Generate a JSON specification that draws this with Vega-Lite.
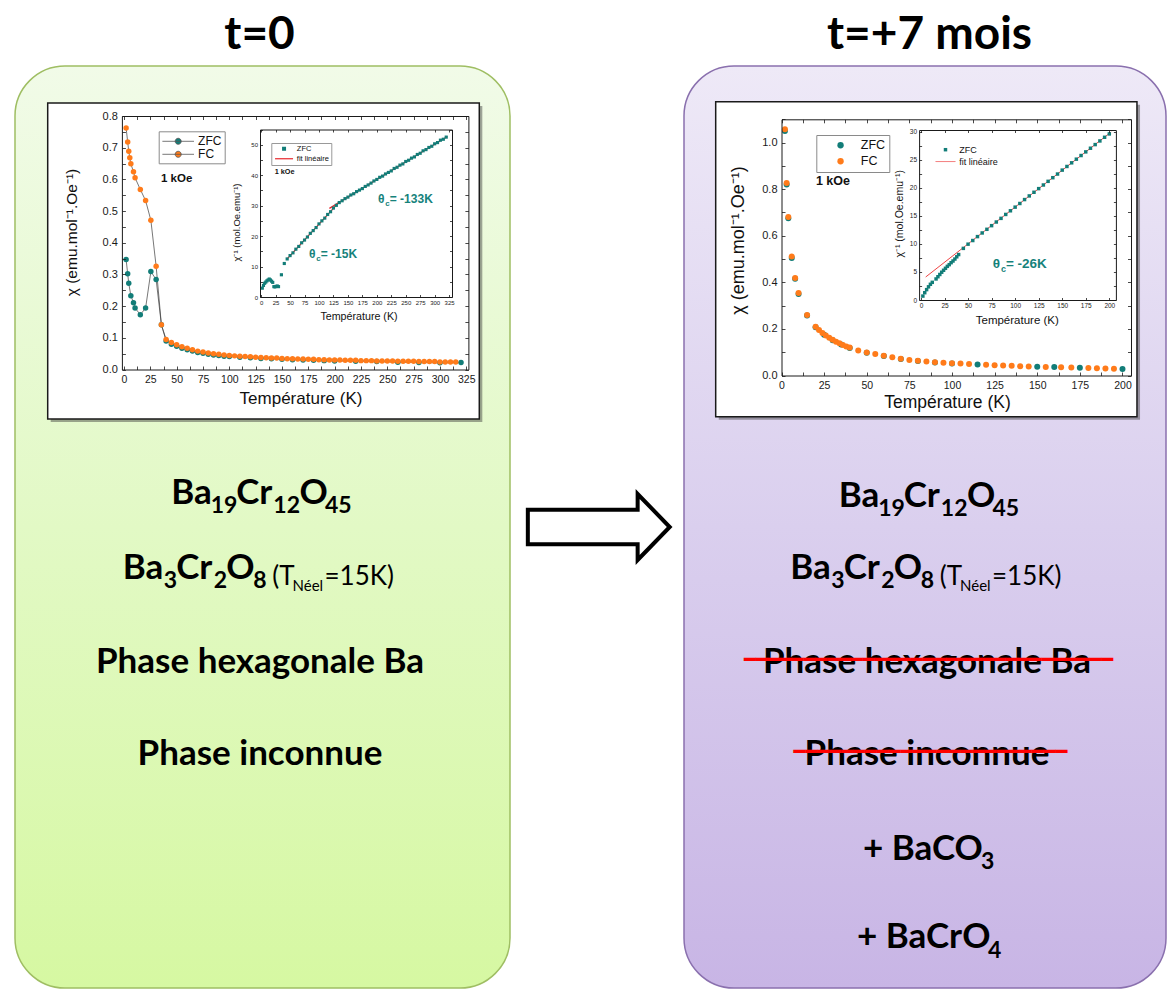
{
"$schema": "https://vega.github.io/schema/vega-lite/v6.json",
"padding": {"left": 14, "top": 11, "right": 0, "bottom": 0},
"background": "white",
"spacing": 0,
"bounds": "flush",
"config": {
  "view": {"stroke": null},
  "axis": {"grid": false, "labelFont": "Liberation Sans", "titleFont": "Liberation Sans", "titleFontWeight": "normal", "labelColor": "#1a1a1a", "titleColor": "#111", "domainColor": "#1a1a1a", "tickColor": "#1a1a1a", "domainWidth": 1, "tickWidth": 0.8, "labelFlush": false, "labelOverlap": false, "labelBound": false},
  "legend": {"labelFont": "Liberation Sans", "titleFont": "Liberation Sans"},
  "title": {"font": "Lato", "fontSize": 46, "fontWeight": "bold", "color": "#000", "anchor": "middle", "frame": "group"}
},
"datasets": {
  "left_main": [
    {"T":2,"chi":0.347,"mode":"ZFC"},{"T":3.5,"chi":0.302,"mode":"ZFC"},{"T":4.5,"chi":0.272,"mode":"ZFC"},{"T":6.5,"chi":0.233,"mode":"ZFC"},{"T":9,"chi":0.211,"mode":"ZFC"},{"T":10.5,"chi":0.194,"mode":"ZFC"},{"T":15.5,"chi":0.173,"mode":"ZFC"},{"T":20.5,"chi":0.194,"mode":"ZFC"},{"T":25.5,"chi":0.309,"mode":"ZFC"},{"T":30.5,"chi":0.284,"mode":"ZFC"},{"T":35.5,"chi":0.141,"mode":"ZFC"},{"T":40,"chi":0.090,"mode":"ZFC"},{"T":45,"chi":0.080,"mode":"ZFC"},{"T":50,"chi":0.073,"mode":"ZFC"},{"T":55,"chi":0.067,"mode":"ZFC"},{"T":60,"chi":0.062,"mode":"ZFC"},{"T":65,"chi":0.058,"mode":"ZFC"},{"T":70,"chi":0.054,"mode":"ZFC"},{"T":75,"chi":0.051,"mode":"ZFC"},{"T":80,"chi":0.048,"mode":"ZFC"},{"T":85,"chi":0.046,"mode":"ZFC"},{"T":90,"chi":0.044,"mode":"ZFC"},{"T":95,"chi":0.042,"mode":"ZFC"},{"T":100,"chi":0.041,"mode":"ZFC"},{"T":110,"chi":0.039,"mode":"ZFC"},{"T":120,"chi":0.037,"mode":"ZFC"},{"T":130,"chi":0.035,"mode":"ZFC"},{"T":140,"chi":0.034,"mode":"ZFC"},{"T":150,"chi":0.032,"mode":"ZFC"},{"T":160,"chi":0.031,"mode":"ZFC"},{"T":170,"chi":0.030,"mode":"ZFC"},{"T":180,"chi":0.029,"mode":"ZFC"},{"T":190,"chi":0.028,"mode":"ZFC"},{"T":200,"chi":0.027,"mode":"ZFC"},{"T":220,"chi":0.026,"mode":"ZFC"},{"T":240,"chi":0.025,"mode":"ZFC"},{"T":260,"chi":0.023,"mode":"ZFC"},{"T":280,"chi":0.022,"mode":"ZFC"},{"T":300,"chi":0.021,"mode":"ZFC"},{"T":320,"chi":0.022,"mode":"ZFC"},
    {"T":2,"chi":0.762,"mode":"FC"},{"T":3.5,"chi":0.718,"mode":"FC"},{"T":4.5,"chi":0.689,"mode":"FC"},{"T":5.5,"chi":0.668,"mode":"FC"},{"T":6.5,"chi":0.649,"mode":"FC"},{"T":9,"chi":0.624,"mode":"FC"},{"T":10.5,"chi":0.605,"mode":"FC"},{"T":15.5,"chi":0.568,"mode":"FC"},{"T":20.5,"chi":0.533,"mode":"FC"},{"T":25.5,"chi":0.471,"mode":"FC"},{"T":30.5,"chi":0.326,"mode":"FC"},{"T":35.5,"chi":0.141,"mode":"FC"},{"T":40,"chi":0.095,"mode":"FC"},{"T":45,"chi":0.085,"mode":"FC"},{"T":50,"chi":0.078,"mode":"FC"},{"T":55,"chi":0.072,"mode":"FC"},{"T":60,"chi":0.067,"mode":"FC"},{"T":65,"chi":0.062,"mode":"FC"},{"T":70,"chi":0.058,"mode":"FC"},{"T":75,"chi":0.055,"mode":"FC"},{"T":80,"chi":0.052,"mode":"FC"},{"T":85,"chi":0.050,"mode":"FC"},{"T":90,"chi":0.048,"mode":"FC"},{"T":95,"chi":0.046,"mode":"FC"},{"T":100,"chi":0.044,"mode":"FC"},{"T":105,"chi":0.043,"mode":"FC"},{"T":110,"chi":0.042,"mode":"FC"},{"T":115,"chi":0.041,"mode":"FC"},{"T":120,"chi":0.040,"mode":"FC"},{"T":125,"chi":0.039,"mode":"FC"},{"T":130,"chi":0.038,"mode":"FC"},{"T":135,"chi":0.037,"mode":"FC"},{"T":140,"chi":0.036,"mode":"FC"},{"T":145,"chi":0.036,"mode":"FC"},{"T":150,"chi":0.035,"mode":"FC"},{"T":155,"chi":0.034,"mode":"FC"},{"T":160,"chi":0.034,"mode":"FC"},{"T":165,"chi":0.033,"mode":"FC"},{"T":170,"chi":0.033,"mode":"FC"},{"T":175,"chi":0.032,"mode":"FC"},{"T":180,"chi":0.032,"mode":"FC"},{"T":185,"chi":0.031,"mode":"FC"},{"T":190,"chi":0.031,"mode":"FC"},{"T":195,"chi":0.030,"mode":"FC"},{"T":200,"chi":0.030,"mode":"FC"},{"T":205,"chi":0.030,"mode":"FC"},{"T":210,"chi":0.029,"mode":"FC"},{"T":215,"chi":0.029,"mode":"FC"},{"T":220,"chi":0.029,"mode":"FC"},{"T":225,"chi":0.028,"mode":"FC"},{"T":230,"chi":0.028,"mode":"FC"},{"T":235,"chi":0.028,"mode":"FC"},{"T":240,"chi":0.027,"mode":"FC"},{"T":245,"chi":0.027,"mode":"FC"},{"T":250,"chi":0.027,"mode":"FC"},{"T":255,"chi":0.027,"mode":"FC"},{"T":260,"chi":0.026,"mode":"FC"},{"T":265,"chi":0.026,"mode":"FC"},{"T":270,"chi":0.026,"mode":"FC"},{"T":275,"chi":0.026,"mode":"FC"},{"T":280,"chi":0.025,"mode":"FC"},{"T":285,"chi":0.025,"mode":"FC"},{"T":290,"chi":0.025,"mode":"FC"},{"T":295,"chi":0.025,"mode":"FC"},{"T":300,"chi":0.024,"mode":"FC"},{"T":305,"chi":0.024,"mode":"FC"},{"T":310,"chi":0.024,"mode":"FC"},{"T":315,"chi":0.024,"mode":"FC"}
  ],
  "left_inset": [
    {"T":2,"inv":2.9,"series":"ZFC"},{"T":4,"inv":3.8,"series":"ZFC"},{"T":6,"inv":4.5,"series":"ZFC"},{"T":8,"inv":4.9,"series":"ZFC"},{"T":10,"inv":5.3,"series":"ZFC"},{"T":12,"inv":5.6,"series":"ZFC"},{"T":14,"inv":5.9,"series":"ZFC"},{"T":16,"inv":5.6,"series":"ZFC"},{"T":18,"inv":5.2,"series":"ZFC"},{"T":20,"inv":4.8,"series":"ZFC"},{"T":22,"inv":3.4,"series":"ZFC"},{"T":24,"inv":3.3,"series":"ZFC"},{"T":26,"inv":3.5,"series":"ZFC"},{"T":28,"inv":3.6,"series":"ZFC"},{"T":30,"inv":3.4,"series":"ZFC"},{"T":35,"inv":7.3,"series":"ZFC"},{"T":40,"inv":11.0,"series":"ZFC"},{"T":45,"inv":12.5,"series":"ZFC"},{"T":50,"inv":13.6,"series":"ZFC"},{"T":55,"inv":14.5,"series":"ZFC"},{"T":60,"inv":15.7,"series":"ZFC"},{"T":65,"inv":16.6,"series":"ZFC"},{"T":70,"inv":17.8,"series":"ZFC"},{"T":75,"inv":18.7,"series":"ZFC"},{"T":80,"inv":19.7,"series":"ZFC"},{"T":85,"inv":20.9,"series":"ZFC"},{"T":90,"inv":21.8,"series":"ZFC"},{"T":95,"inv":22.8,"series":"ZFC"},{"T":100,"inv":24.0,"series":"ZFC"},{"T":105,"inv":25.0,"series":"ZFC"},{"T":110,"inv":25.9,"series":"ZFC"},{"T":115,"inv":27.1,"series":"ZFC"},{"T":120,"inv":28.0,"series":"ZFC"},{"T":125,"inv":29.2,"series":"ZFC"},{"T":130,"inv":30.1,"series":"ZFC"},{"T":135,"inv":31.0,"series":"ZFC"},{"T":140,"inv":31.6,"series":"ZFC"},{"T":145,"inv":32.3,"series":"ZFC"},{"T":150,"inv":32.8,"series":"ZFC"},{"T":155,"inv":33.5,"series":"ZFC"},{"T":160,"inv":33.9,"series":"ZFC"},{"T":165,"inv":34.6,"series":"ZFC"},{"T":170,"inv":35.1,"series":"ZFC"},{"T":175,"inv":35.6,"series":"ZFC"},{"T":180,"inv":36.3,"series":"ZFC"},{"T":185,"inv":36.8,"series":"ZFC"},{"T":190,"inv":37.4,"series":"ZFC"},{"T":195,"inv":38.1,"series":"ZFC"},{"T":200,"inv":38.6,"series":"ZFC"},{"T":205,"inv":39.3,"series":"ZFC"},{"T":210,"inv":39.7,"series":"ZFC"},{"T":215,"inv":40.4,"series":"ZFC"},{"T":220,"inv":40.9,"series":"ZFC"},{"T":225,"inv":41.4,"series":"ZFC"},{"T":230,"inv":42.2,"series":"ZFC"},{"T":235,"inv":42.6,"series":"ZFC"},{"T":240,"inv":43.3,"series":"ZFC"},{"T":245,"inv":43.7,"series":"ZFC"},{"T":250,"inv":44.5,"series":"ZFC"},{"T":255,"inv":44.9,"series":"ZFC"},{"T":260,"inv":45.6,"series":"ZFC"},{"T":265,"inv":46.0,"series":"ZFC"},{"T":270,"inv":46.8,"series":"ZFC"},{"T":275,"inv":47.2,"series":"ZFC"},{"T":280,"inv":48.0,"series":"ZFC"},{"T":285,"inv":48.4,"series":"ZFC"},{"T":290,"inv":49.1,"series":"ZFC"},{"T":295,"inv":49.5,"series":"ZFC"},{"T":300,"inv":50.3,"series":"ZFC"},{"T":305,"inv":50.7,"series":"ZFC"},{"T":310,"inv":51.5,"series":"ZFC"},{"T":315,"inv":51.8,"series":"ZFC"},{"T":320,"inv":52.5,"series":"ZFC"}
  ],
  "left_fit": [
    {"T":45,"inv":12.5,"seg":"a","series":"fit linéaire"},{"T":136,"inv":31.4,"seg":"a","series":"fit linéaire"},
    {"T":118,"inv":29.1,"seg":"b","series":"fit linéaire"},{"T":322,"inv":52.7,"seg":"b","series":"fit linéaire"}
  ],
  "right_main": [
    {"T":2,"chi":1.05,"mode":"ZFC"},{"T":3,"chi":0.82,"mode":"ZFC"},{"T":4,"chi":0.675,"mode":"ZFC"},{"T":6,"chi":0.505,"mode":"ZFC"},{"T":8,"chi":0.415,"mode":"ZFC"},{"T":10,"chi":0.35,"mode":"ZFC"},{"T":15,"chi":0.258,"mode":"ZFC"},{"T":20,"chi":0.207,"mode":"ZFC"},{"T":25,"chi":0.175,"mode":"ZFC"},{"T":30,"chi":0.151,"mode":"ZFC"},{"T":35,"chi":0.133,"mode":"ZFC"},{"T":40,"chi":0.118,"mode":"ZFC"},{"T":50,"chi":0.098,"mode":"ZFC"},{"T":60,"chi":0.084,"mode":"ZFC"},{"T":70,"chi":0.071,"mode":"ZFC"},{"T":80,"chi":0.062,"mode":"ZFC"},{"T":90,"chi":0.056,"mode":"ZFC"},{"T":100,"chi":0.052,"mode":"ZFC"},{"T":115,"chi":0.047,"mode":"ZFC"},{"T":150,"chi":0.038,"mode":"ZFC"},{"T":160,"chi":0.036,"mode":"ZFC"},{"T":175,"chi":0.033,"mode":"ZFC"},{"T":200,"chi":0.028,"mode":"ZFC"},
    {"T":2,"chi":1.057,"mode":"FC"},{"T":3,"chi":0.826,"mode":"FC"},{"T":4,"chi":0.68,"mode":"FC"},{"T":6,"chi":0.511,"mode":"FC"},{"T":8,"chi":0.419,"mode":"FC"},{"T":10,"chi":0.354,"mode":"FC"},{"T":15,"chi":0.26,"mode":"FC"},{"T":20,"chi":0.209,"mode":"FC"},{"T":22,"chi":0.195,"mode":"FC"},{"T":24,"chi":0.183,"mode":"FC"},{"T":26,"chi":0.172,"mode":"FC"},{"T":28,"chi":0.162,"mode":"FC"},{"T":30,"chi":0.153,"mode":"FC"},{"T":32,"chi":0.145,"mode":"FC"},{"T":34,"chi":0.138,"mode":"FC"},{"T":36,"chi":0.131,"mode":"FC"},{"T":38,"chi":0.125,"mode":"FC"},{"T":40,"chi":0.12,"mode":"FC"},{"T":45,"chi":0.107,"mode":"FC"},{"T":50,"chi":0.099,"mode":"FC"},{"T":55,"chi":0.092,"mode":"FC"},{"T":60,"chi":0.085,"mode":"FC"},{"T":65,"chi":0.078,"mode":"FC"},{"T":70,"chi":0.072,"mode":"FC"},{"T":75,"chi":0.067,"mode":"FC"},{"T":80,"chi":0.063,"mode":"FC"},{"T":85,"chi":0.06,"mode":"FC"},{"T":90,"chi":0.057,"mode":"FC"},{"T":95,"chi":0.055,"mode":"FC"},{"T":100,"chi":0.053,"mode":"FC"},{"T":105,"chi":0.051,"mode":"FC"},{"T":110,"chi":0.049,"mode":"FC"},{"T":120,"chi":0.046,"mode":"FC"},{"T":125,"chi":0.044,"mode":"FC"},{"T":130,"chi":0.043,"mode":"FC"},{"T":135,"chi":0.042,"mode":"FC"},{"T":140,"chi":0.04,"mode":"FC"},{"T":145,"chi":0.039,"mode":"FC"},{"T":155,"chi":0.037,"mode":"FC"},{"T":164,"chi":0.035,"mode":"FC"},{"T":170,"chi":0.034,"mode":"FC"},{"T":180,"chi":0.032,"mode":"FC"},{"T":185,"chi":0.031,"mode":"FC"},{"T":190,"chi":0.03,"mode":"FC"},{"T":195,"chi":0.029,"mode":"FC"}
  ],
  "right_inset": [
    {"T":2,"inv":0.7,"series":"ZFC"},{"T":4,"inv":1.3,"series":"ZFC"},{"T":6,"inv":1.85,"series":"ZFC"},{"T":8,"inv":2.35,"series":"ZFC"},{"T":10,"inv":2.8,"series":"ZFC"},{"T":12,"inv":3.15,"series":"ZFC"},{"T":16,"inv":3.75,"series":"ZFC"},{"T":18,"inv":4.15,"series":"ZFC"},{"T":20,"inv":4.55,"series":"ZFC"},{"T":22,"inv":4.95,"series":"ZFC"},{"T":24,"inv":5.3,"series":"ZFC"},{"T":26,"inv":5.65,"series":"ZFC"},{"T":28,"inv":6.0,"series":"ZFC"},{"T":30,"inv":6.3,"series":"ZFC"},{"T":32,"inv":6.65,"series":"ZFC"},{"T":34,"inv":6.95,"series":"ZFC"},{"T":36,"inv":7.3,"series":"ZFC"},{"T":38,"inv":7.7,"series":"ZFC"},{"T":40,"inv":8.1,"series":"ZFC"},{"T":45,"inv":9.2,"series":"ZFC"},{"T":50,"inv":9.95,"series":"ZFC"},{"T":55,"inv":10.6,"series":"ZFC"},{"T":60,"inv":11.3,"series":"ZFC"},{"T":65,"inv":11.95,"series":"ZFC"},{"T":70,"inv":12.6,"series":"ZFC"},{"T":75,"inv":13.25,"series":"ZFC"},{"T":80,"inv":13.9,"series":"ZFC"},{"T":85,"inv":14.55,"series":"ZFC"},{"T":90,"inv":15.25,"series":"ZFC"},{"T":95,"inv":15.9,"series":"ZFC"},{"T":100,"inv":16.55,"series":"ZFC"},{"T":105,"inv":17.2,"series":"ZFC"},{"T":110,"inv":17.9,"series":"ZFC"},{"T":115,"inv":18.55,"series":"ZFC"},{"T":120,"inv":19.2,"series":"ZFC"},{"T":125,"inv":19.85,"series":"ZFC"},{"T":130,"inv":20.5,"series":"ZFC"},{"T":135,"inv":21.15,"series":"ZFC"},{"T":140,"inv":21.8,"series":"ZFC"},{"T":145,"inv":22.45,"series":"ZFC"},{"T":150,"inv":23.15,"series":"ZFC"},{"T":155,"inv":23.8,"series":"ZFC"},{"T":160,"inv":24.45,"series":"ZFC"},{"T":165,"inv":25.1,"series":"ZFC"},{"T":170,"inv":25.75,"series":"ZFC"},{"T":175,"inv":26.4,"series":"ZFC"},{"T":180,"inv":27.05,"series":"ZFC"},{"T":185,"inv":27.7,"series":"ZFC"},{"T":190,"inv":28.35,"series":"ZFC"},{"T":195,"inv":29.0,"series":"ZFC"},{"T":200,"inv":29.6,"series":"ZFC"}
  ],
  "right_fit": [
    {"T":5,"inv":4.1,"series":"fit linéaire"},{"T":202,"inv":29.95,"series":"fit linéaire"}
  ],
  "left_note_main": [{"T":35.1,"chi":0.593,"label":"1 kOe"}],
  "left_note_inset": [{"T":23.4,"inv":40.4,"label":"1 kOe"}],
  "right_note_main": [{"T":20.2,"chi":0.82,"label":"1 kOe"}],
  "left_theta": [
    {"T":202,"inv":31.0,"th":"θ","c":"c","rest":"= -133K"},
    {"T":82.7,"inv":12.97,"th":"θ","c":"c","rest":"= -15K"}
  ],
  "right_theta": [{"T":76.2,"inv":5.7,"th":"θ","c":"c","rest":"= -26K"}],
  "left_lines": [{"row":3,"text":"Phase hexagonale Ba"},{"row":4,"text":"Phase inconnue"}],
  "right_lines": [{"row":3,"text":"Phase hexagonale Ba"},{"row":4,"text":"Phase inconnue"}],
  "formula": [
    {"row":1,"part":"p1","text":"Ba"},{"row":1,"part":"p2","text":"19"},{"row":1,"part":"p3","text":"Cr"},{"row":1,"part":"p4","text":"12"},{"row":1,"part":"p5","text":"O"},{"row":1,"part":"p6","text":"45"},
    {"row":2,"part":"q1","text":"Ba"},{"row":2,"part":"q2","text":"3"},{"row":2,"part":"q3","text":"Cr"},{"row":2,"part":"q4","text":"2"},{"row":2,"part":"q5","text":"O"},{"row":2,"part":"q6","text":"8"},{"row":2,"part":"q7","text":"(T"},{"row":2,"part":"q8","text":"Néel"},{"row":2,"part":"q9","text":"=15K)"}
  ],
  "additions": [
    {"row":5,"part":"r1","text":"+ BaCO"},{"row":5,"part":"r2","text":"3"},
    {"row":6,"part":"s1","text":"+ BaCrO"},{"row":6,"part":"s2","text":"4"}
  ],
  "arrow": [{"label":"évolution"}]
},
"hconcat": [
{
  "width": 495, "height": 922,
  "title": {"text": "t=0", "dx": -3, "offset": -29, "baseline": "alphabetic", "frame": "group"},
  "view": {"fill": {"gradient": "linear", "x1": 0, "y1": 0, "x2": 0, "y2": 1, "stops": [{"offset": 0, "color": "#f1fbe8"}, {"offset": 0.5, "color": "#e2f9c5"}, {"offset": 1, "color": "#d6f8a2"}]}, "stroke": "#9fbe63", "strokeWidth": 1.5, "cornerRadius": 50},
  "resolve": {"scale": {"x": "independent", "y": "independent", "color": "independent", "shape": "independent"}},
  "layer": [
    {"data": {"values": [{"frame": "figure"}]},
     "mark": {"type": "rect", "fill": "#3a3a3a", "opacity": 0.45},
     "encoding": {
       "x": {"datum": -69.6, "type": "quantitative", "scale": {"domain": [-2, 327], "range": [106.9, 453.4], "nice": false, "zero": false}, "axis": null},
       "x2": {"datum": 340.2},
       "y": {"datum": 0.8315, "type": "quantitative", "scale": {"domain": [0, 0.8], "range": [303.5, 50], "nice": false, "zero": false}, "axis": null},
       "y2": {"datum": -0.1655}}},
    {"data": {"values": [{"frame": "figure"}]},
     "mark": {"type": "rect", "fill": "white", "stroke": "#1a1a1a", "strokeWidth": 1.5},
     "encoding": {
       "x": {"datum": -72.45, "type": "quantitative", "scale": {"domain": [-2, 327], "range": [106.9, 453.4], "nice": false, "zero": false}, "axis": {"zindex": 1, "orient": "top", "offset": -50, "values": [0,12.5,25,37.5,50,62.5,75,87.5,100,112.5,125,137.5,150,162.5,175,187.5,200,212.5,225,237.5,250,262.5,275,287.5,300,312.5,325], "tickSize": -3.5, "labels": false, "title": null}},
       "x2": {"datum": 337.35},
       "y": {"datum": 0.841, "type": "quantitative", "scale": {"domain": [0, 0.8], "range": [303.5, 50], "nice": false, "zero": false}, "axis": {"zindex": 1, "orient": "right", "offset": -41.6, "values": [0,0.05,0.1,0.15,0.2,0.25,0.3,0.35,0.4,0.45,0.5,0.55,0.6,0.65,0.7,0.75,0.8], "tickSize": -3.5, "labels": false, "title": null}},
       "y2": {"datum": -0.156}}},
    {"data": {"name": "left_main"},
     "mark": {"type": "line", "color": "#3c3c3c", "strokeWidth": 0.7},
     "encoding": {
       "x": {"field": "T", "type": "quantitative", "scale": {"domain": [-2, 327], "range": [106.9, 453.4], "nice": false, "zero": false},
             "axis": {"zindex": 1, "orient": "bottom", "offset": -618.5, "values": [0,12.5,25,37.5,50,62.5,75,87.5,100,112.5,125,137.5,150,162.5,175,187.5,200,212.5,225,237.5,250,262.5,275,287.5,300,312.5,325], "tickSize": -3.5, "labelExpr": "datum.value % 25 === 0 ? format(datum.value, 'd') : ''", "labelFontSize": 10.5, "labelPadding": 8, "title": "Température (K)", "titleFontSize": 17, "titleX": 285.5, "titleY": 28.5, "titleBaseline": "middle", "titleAlign": "center"}},
       "y": {"field": "chi", "type": "quantitative", "scale": {"domain": [0, 0.8], "range": [303.5, 50], "nice": false, "zero": false},
             "axis": {"zindex": 1, "orient": "left", "offset": -106.9, "values": [0,0.05,0.1,0.15,0.2,0.25,0.3,0.35,0.4,0.45,0.5,0.55,0.6,0.65,0.7,0.75,0.8], "tickSize": -3.5, "labelExpr": "round(datum.value*100) % 10 === 0 ? format(datum.value, '.1f') : ''", "labelFontSize": 11, "labelPadding": 8, "title": "χ (emu.mol⁻¹.Oe⁻¹)", "titleFontSize": 15.5, "titleX": -50.9, "titleY": 166, "titleAngle": -90, "titleBaseline": "middle", "titleAlign": "center"}},
       "detail": {"field": "mode", "type": "nominal"}}},
    {"data": {"name": "left_main"},
     "mark": {"type": "circle", "size": 30, "opacity": 1},
     "encoding": {
       "x": {"field": "T", "type": "quantitative", "scale": {"domain": [-2, 327], "range": [106.9, 453.4], "nice": false, "zero": false}, "axis": null},
       "y": {"field": "chi", "type": "quantitative", "scale": {"domain": [0, 0.8], "range": [303.5, 50], "nice": false, "zero": false}, "axis": null},
       "color": {"field": "mode", "type": "nominal", "scale": {"domain": ["ZFC", "FC"], "range": ["#127d78", "#ff7b1a"]},
                 "legend": {"orient": "none", "legendX": 143.7, "legendY": 65.3, "title": null, "fillColor": "white", "strokeColor": "#8a8a8a", "padding": 3, "labelFontSize": 12, "labelColor": "#111", "symbolSize": 160, "symbolOffset": 9.5, "labelOffset": 12.9, "symbolType": "M-2.5,0L2.5,0M0.48,0A0.48,0.48,0,1,1,-0.48,0A0.48,0.48,0,1,1,0.48,0Z", "symbolStrokeColor": "#555", "symbolStrokeWidth": 0.8, "rowPadding": 0, "symbolOpacity": 1}}}},
    {"data": {"name": "left_note_main"},
     "mark": {"type": "text", "font": "Liberation Sans", "fontWeight": "bold", "fontSize": 11.5, "align": "left", "baseline": "alphabetic", "color": "#111"},
     "encoding": {
       "x": {"field": "T", "type": "quantitative", "scale": {"domain": [-2, 327], "range": [106.9, 453.4], "nice": false, "zero": false}, "axis": null},
       "y": {"field": "chi", "type": "quantitative", "scale": {"domain": [0, 0.8], "range": [303.5, 50], "nice": false, "zero": false}, "axis": null},
       "text": {"field": "label"}}},
    {"data": {"values": [{"frame": "inset"}]},
     "mark": {"type": "rect", "fill": "white"},
     "encoding": {
       "x": {"datum": -2, "type": "quantitative", "scale": {"domain": [-2, 330], "range": [245, 437], "nice": false, "zero": false},
             "axis": {"zindex": 1, "orient": "top", "offset": -63.5, "values": [0,25,50,75,100,125,150,175,200,225,250,275,300,325], "tickSize": -2.5, "labels": false, "title": null}},
       "x2": {"datum": 330},
       "y": {"datum": 55, "type": "quantitative", "scale": {"domain": [0, 55], "range": [231, 63.5], "nice": false, "zero": false},
             "axis": {"zindex": 1, "orient": "right", "offset": -58, "values": [0,5,10,15,20,25,30,35,40,45,50,55], "tickSize": -2.5, "labels": false, "title": null}},
       "y2": {"datum": 0}}},
    {"data": {"name": "left_fit"},
     "mark": {"type": "line", "strokeWidth": 1.2},
     "encoding": {
       "x": {"field": "T", "type": "quantitative", "scale": {"domain": [-2, 330], "range": [245, 437], "nice": false, "zero": false}, "axis": null},
       "y": {"field": "inv", "type": "quantitative", "scale": {"domain": [0, 55], "range": [231, 63.5], "nice": false, "zero": false}, "axis": null},
       "color": {"field": "series", "type": "nominal", "scale": {"domain": ["ZFC", "fit linéaire"], "range": ["#127d78", "#e8262b"]}, "legend": null},
       "detail": {"field": "seg", "type": "nominal"}}},
    {"data": {"name": "left_inset"},
     "mark": {"type": "point", "filled": true, "size": 10, "opacity": 1},
     "encoding": {
       "x": {"field": "T", "type": "quantitative", "scale": {"domain": [-2, 330], "range": [245, 437], "nice": false, "zero": false},
             "axis": {"zindex": 1, "orient": "bottom", "offset": -691, "values": [0,25,50,75,100,125,150,175,200,225,250,275,300,325], "tickSize": -2.5, "labelExpr": "format(datum.value, 'd')", "labelFontSize": 6, "labelPadding": 5, "title": "Température (K)", "titleFontSize": 10.7, "titleX": 343.5, "titleY": 19.3, "titleBaseline": "middle", "titleAlign": "center"}},
       "y": {"field": "inv", "type": "quantitative", "scale": {"domain": [0, 55], "range": [231, 63.5], "nice": false, "zero": false},
             "axis": {"zindex": 1, "orient": "left", "offset": -245, "values": [0,5,10,15,20,25,30,35,40,45,50,55], "tickSize": -2.5, "labelExpr": "datum.value % 10 === 0 ? format(datum.value, 'd') : ''", "labelFontSize": 6, "labelPadding": 5, "title": "χ⁻¹ (mol.Oe.emu⁻¹)", "titleFontSize": 9.5, "titleX": -23.7, "titleY": 156, "titleAngle": -90, "titleBaseline": "middle", "titleAlign": "center"}},
       "color": {"field": "series", "type": "nominal", "scale": {"domain": ["ZFC", "fit linéaire"], "range": ["#127d78", "#e8262b"]},
                 "legend": {"orient": "none", "legendX": 256.3, "legendY": 77, "title": null, "fillColor": "white", "strokeColor": "#999", "padding": 2, "labelFontSize": 7.5, "labelColor": "#111", "symbolSize": 16, "symbolOffset": 7, "labelOffset": 9, "rowPadding": 1, "symbolStrokeWidth": 0, "symbolOpacity": 1}},
       "shape": {"field": "series", "type": "nominal", "scale": {"domain": ["ZFC", "fit linéaire"], "range": ["M-1,-1L1,-1L1,1L-1,1Z", "M-4.5,-0.3L4.5,-0.3L4.5,0.3L-4.5,0.3Z"]},
                 "legend": {"orient": "none", "legendX": 256.3, "legendY": 77, "title": null, "fillColor": "white", "strokeColor": "#999", "padding": 2, "labelFontSize": 7.5, "labelColor": "#111", "symbolSize": 16, "symbolOffset": 7, "labelOffset": 9, "rowPadding": 1, "symbolStrokeWidth": 0, "symbolOpacity": 1}}}},
    {"data": {"name": "left_note_inset"},
     "mark": {"type": "text", "font": "Liberation Sans", "fontWeight": "bold", "fontSize": 7.3, "align": "left", "baseline": "alphabetic", "color": "#111"},
     "encoding": {
       "x": {"field": "T", "type": "quantitative", "scale": {"domain": [-2, 330], "range": [245, 437], "nice": false, "zero": false}, "axis": null},
       "y": {"field": "inv", "type": "quantitative", "scale": {"domain": [0, 55], "range": [231, 63.5], "nice": false, "zero": false}, "axis": null},
       "text": {"field": "label"}}},
    {"data": {"name": "left_theta"},
     "mark": {"type": "text", "font": "Liberation Sans", "fontWeight": "bold", "fontSize": 12, "align": "left", "baseline": "alphabetic", "color": "#16827b"},
     "encoding": {
       "x": {"field": "T", "type": "quantitative", "scale": {"domain": [-2, 330], "range": [245, 437], "nice": false, "zero": false}, "axis": null},
       "y": {"field": "inv", "type": "quantitative", "scale": {"domain": [0, 55], "range": [231, 63.5], "nice": false, "zero": false}, "axis": null},
       "text": {"field": "th"}}},
    {"data": {"name": "left_theta"},
     "mark": {"type": "text", "font": "Liberation Sans", "fontWeight": "bold", "fontSize": 8, "align": "left", "baseline": "alphabetic", "color": "#16827b", "dx": 7.3, "dy": 3},
     "encoding": {
       "x": {"field": "T", "type": "quantitative", "scale": {"domain": [-2, 330], "range": [245, 437], "nice": false, "zero": false}, "axis": null},
       "y": {"field": "inv", "type": "quantitative", "scale": {"domain": [0, 55], "range": [231, 63.5], "nice": false, "zero": false}, "axis": null},
       "text": {"field": "c"}}},
    {"data": {"name": "left_theta"},
     "mark": {"type": "text", "font": "Liberation Sans", "fontWeight": "bold", "fontSize": 12, "align": "left", "baseline": "alphabetic", "color": "#16827b", "dx": 11.8},
     "encoding": {
       "x": {"field": "T", "type": "quantitative", "scale": {"domain": [-2, 330], "range": [245, 437], "nice": false, "zero": false}, "axis": null},
       "y": {"field": "inv", "type": "quantitative", "scale": {"domain": [0, 55], "range": [231, 63.5], "nice": false, "zero": false}, "axis": null},
       "text": {"field": "rest"}}},
    {"data": {"name": "left_lines"},
     "mark": {"type": "text", "font": "Lato", "fontWeight": "bold", "fontSize": 35, "align": "center", "baseline": "alphabetic", "dx": -2.5, "color": "#000"},
     "encoding": {"y": {"field": "row", "type": "quantitative", "scale": {"domain": [-3.568, 6.41], "reverse": true, "nice": false, "zero": false}, "axis": null}, "text": {"field": "text"}}},
    {"data": {"name": "formula"}, "transform": [{"filter": "datum.part === 'p1'"}], "mark": {"type": "text", "font": "Lato", "fontWeight": "bold", "fontSize": 35, "align": "left", "baseline": "alphabetic", "dx": -91.3, "dy": 16.2, "color": "#000"}, "encoding": {"y": {"field": "row", "type": "quantitative", "scale": {"domain": [-3.568, 6.41], "reverse": true, "nice": false, "zero": false}, "axis": null}, "text": {"field": "text"}}},
    {"data": {"name": "formula"}, "transform": [{"filter": "datum.part === 'p2'"}], "mark": {"type": "text", "font": "Lato", "fontWeight": "bold", "fontSize": 23, "align": "left", "baseline": "alphabetic", "dx": -51.8, "dy": 25.2, "color": "#000"}, "encoding": {"y": {"field": "row", "type": "quantitative", "scale": {"domain": [-3.568, 6.41], "reverse": true, "nice": false, "zero": false}, "axis": null}, "text": {"field": "text"}}},
    {"data": {"name": "formula"}, "transform": [{"filter": "datum.part === 'p3'"}], "mark": {"type": "text", "font": "Lato", "fontWeight": "bold", "fontSize": 35, "align": "left", "baseline": "alphabetic", "dx": -26.3, "dy": 16.2, "color": "#000"}, "encoding": {"y": {"field": "row", "type": "quantitative", "scale": {"domain": [-3.568, 6.41], "reverse": true, "nice": false, "zero": false}, "axis": null}, "text": {"field": "text"}}},
    {"data": {"name": "formula"}, "transform": [{"filter": "datum.part === 'p4'"}], "mark": {"type": "text", "font": "Lato", "fontWeight": "bold", "fontSize": 23, "align": "left", "baseline": "alphabetic", "dx": 10.8, "dy": 25.2, "color": "#000"}, "encoding": {"y": {"field": "row", "type": "quantitative", "scale": {"domain": [-3.568, 6.41], "reverse": true, "nice": false, "zero": false}, "axis": null}, "text": {"field": "text"}}},
    {"data": {"name": "formula"}, "transform": [{"filter": "datum.part === 'p5'"}], "mark": {"type": "text", "font": "Lato", "fontWeight": "bold", "fontSize": 35, "align": "left", "baseline": "alphabetic", "dx": 37, "dy": 16.2, "color": "#000"}, "encoding": {"y": {"field": "row", "type": "quantitative", "scale": {"domain": [-3.568, 6.41], "reverse": true, "nice": false, "zero": false}, "axis": null}, "text": {"field": "text"}}},
    {"data": {"name": "formula"}, "transform": [{"filter": "datum.part === 'p6'"}], "mark": {"type": "text", "font": "Lato", "fontWeight": "bold", "fontSize": 23, "align": "left", "baseline": "alphabetic", "dx": 62.5, "dy": 25.2, "color": "#000"}, "encoding": {"y": {"field": "row", "type": "quantitative", "scale": {"domain": [-3.568, 6.41], "reverse": true, "nice": false, "zero": false}, "axis": null}, "text": {"field": "text"}}},
    {"data": {"name": "formula"}, "transform": [{"filter": "datum.part === 'q1'"}], "mark": {"type": "text", "font": "Lato", "fontWeight": "bold", "fontSize": 35, "align": "left", "baseline": "alphabetic", "dx": -139.7, "dy": -1.2, "color": "#000"}, "encoding": {"y": {"field": "row", "type": "quantitative", "scale": {"domain": [-3.568, 6.41], "reverse": true, "nice": false, "zero": false}, "axis": null}, "text": {"field": "text"}}},
    {"data": {"name": "formula"}, "transform": [{"filter": "datum.part === 'q2'"}], "mark": {"type": "text", "font": "Lato", "fontWeight": "bold", "fontSize": 23, "align": "left", "baseline": "alphabetic", "dx": -98.7, "dy": 7.2, "color": "#000"}, "encoding": {"y": {"field": "row", "type": "quantitative", "scale": {"domain": [-3.568, 6.41], "reverse": true, "nice": false, "zero": false}, "axis": null}, "text": {"field": "text"}}},
    {"data": {"name": "formula"}, "transform": [{"filter": "datum.part === 'q3'"}], "mark": {"type": "text", "font": "Lato", "fontWeight": "bold", "fontSize": 35, "align": "left", "baseline": "alphabetic", "dx": -86.3, "dy": -1.2, "color": "#000"}, "encoding": {"y": {"field": "row", "type": "quantitative", "scale": {"domain": [-3.568, 6.41], "reverse": true, "nice": false, "zero": false}, "axis": null}, "text": {"field": "text"}}},
    {"data": {"name": "formula"}, "transform": [{"filter": "datum.part === 'q4'"}], "mark": {"type": "text", "font": "Lato", "fontWeight": "bold", "fontSize": 23, "align": "left", "baseline": "alphabetic", "dx": -48.7, "dy": 7.2, "color": "#000"}, "encoding": {"y": {"field": "row", "type": "quantitative", "scale": {"domain": [-3.568, 6.41], "reverse": true, "nice": false, "zero": false}, "axis": null}, "text": {"field": "text"}}},
    {"data": {"name": "formula"}, "transform": [{"filter": "datum.part === 'q5'"}], "mark": {"type": "text", "font": "Lato", "fontWeight": "bold", "fontSize": 35, "align": "left", "baseline": "alphabetic", "dx": -36.3, "dy": -1.2, "color": "#000"}, "encoding": {"y": {"field": "row", "type": "quantitative", "scale": {"domain": [-3.568, 6.41], "reverse": true, "nice": false, "zero": false}, "axis": null}, "text": {"field": "text"}}},
    {"data": {"name": "formula"}, "transform": [{"filter": "datum.part === 'q6'"}], "mark": {"type": "text", "font": "Lato", "fontWeight": "bold", "fontSize": 23, "align": "left", "baseline": "alphabetic", "dx": -9.3, "dy": 7.2, "color": "#000"}, "encoding": {"y": {"field": "row", "type": "quantitative", "scale": {"domain": [-3.568, 6.41], "reverse": true, "nice": false, "zero": false}, "axis": null}, "text": {"field": "text"}}},
    {"data": {"name": "formula"}, "transform": [{"filter": "datum.part === 'q7'"}], "mark": {"type": "text", "font": "Lato", "fontWeight": "normal", "fontSize": 26, "align": "left", "baseline": "alphabetic", "dx": 9.8, "dy": 4.2, "color": "#000"}, "encoding": {"y": {"field": "row", "type": "quantitative", "scale": {"domain": [-3.568, 6.41], "reverse": true, "nice": false, "zero": false}, "axis": null}, "text": {"field": "text"}}},
    {"data": {"name": "formula"}, "transform": [{"filter": "datum.part === 'q8'"}], "mark": {"type": "text", "font": "Lato", "fontWeight": "normal", "fontSize": 15, "align": "left", "baseline": "alphabetic", "dx": 30, "dy": 10.5, "color": "#000"}, "encoding": {"y": {"field": "row", "type": "quantitative", "scale": {"domain": [-3.568, 6.41], "reverse": true, "nice": false, "zero": false}, "axis": null}, "text": {"field": "text"}}},
    {"data": {"name": "formula"}, "transform": [{"filter": "datum.part === 'q9'"}], "mark": {"type": "text", "font": "Lato", "fontWeight": "normal", "fontSize": 26, "align": "left", "baseline": "alphabetic", "dx": 62, "dy": 4.2, "color": "#000"}, "encoding": {"y": {"field": "row", "type": "quantitative", "scale": {"domain": [-3.568, 6.41], "reverse": true, "nice": false, "zero": false}, "axis": null}, "text": {"field": "text"}}}
  ]
},
{
  "width": 174, "height": 922,
  "view": {"stroke": null},
  "data": {"name": "arrow"},
  "mark": {"type": "point", "shape": "M-0.97,-0.241L0.57,-0.241L0.57,-0.463L1.02,0L0.57,0.463L0.57,0.241L-0.97,0.241Z", "size": 20335, "filled": true, "fill": "white", "stroke": "black", "strokeWidth": 4, "opacity": 1, "strokeJoin": "miter"},
  "encoding": {}
},
{
  "width": 482, "height": 922,
  "title": {"text": "t=+7 mois", "dx": 4.5, "offset": -29, "baseline": "alphabetic", "frame": "group"},
  "view": {"fill": {"gradient": "linear", "x1": 0, "y1": 0, "x2": 0, "y2": 1, "stops": [{"offset": 0, "color": "#eee9f7"}, {"offset": 0.5, "color": "#dacfee"}, {"offset": 1, "color": "#c8b5e5"}]}, "stroke": "#8a70ae", "strokeWidth": 1.5, "cornerRadius": 50},
  "resolve": {"scale": {"x": "independent", "y": "independent", "color": "independent", "shape": "independent"}},
  "layer": [
    {"data": {"values": [{"frame": "figure"}]},
     "mark": {"type": "rect", "fill": "#3a3a3a", "opacity": 0.45},
     "encoding": {
       "x": {"datum": -36.8, "type": "quantitative", "scale": {"domain": [0, 205], "range": [97.5, 447], "nice": false, "zero": false}, "axis": null},
       "x2": {"datum": 210.3},
       "y": {"datum": 1.1627, "type": "quantitative", "scale": {"domain": [0, 1.1], "range": [309.5, 53.3], "nice": false, "zero": false}, "axis": null},
       "y2": {"datum": -0.1898}}},
    {"data": {"values": [{"frame": "figure"}]},
     "mark": {"type": "rect", "fill": "white", "stroke": "#1a1a1a", "strokeWidth": 1.5},
     "encoding": {
       "x": {"datum": -38.6, "type": "quantitative", "scale": {"domain": [0, 205], "range": [97.5, 447], "nice": false, "zero": false}, "axis": {"zindex": 1, "orient": "top", "offset": -53.3, "values": [0,12.5,25,37.5,50,62.5,75,87.5,100,112.5,125,137.5,150,162.5,175,187.5,200], "tickSize": -3.5, "labels": false, "title": null}},
       "x2": {"datum": 208.5},
       "y": {"datum": 1.1756, "type": "quantitative", "scale": {"domain": [0, 1.1], "range": [309.5, 53.3], "nice": false, "zero": false}, "axis": {"zindex": 1, "orient": "right", "offset": -35, "values": [0,0.1,0.2,0.3,0.4,0.5,0.6,0.7,0.8,0.9,1.0,1.1], "tickSize": -3.5, "labels": false, "title": null}},
       "y2": {"datum": -0.1769}}},
    {"data": {"name": "right_main"},
     "mark": {"type": "circle", "size": 36, "opacity": 1},
     "encoding": {
       "x": {"field": "T", "type": "quantitative", "scale": {"domain": [0, 205], "range": [97.5, 447], "nice": false, "zero": false},
             "axis": {"zindex": 1, "orient": "bottom", "offset": -612.5, "values": [0,12.5,25,37.5,50,62.5,75,87.5,100,112.5,125,137.5,150,162.5,175,187.5,200], "tickSize": -3.5, "labelExpr": "datum.value % 25 === 0 ? format(datum.value, 'd') : ''", "labelFontSize": 10.5, "labelPadding": 8, "title": "Température (K)", "titleFontSize": 17.5, "titleX": 263, "titleY": 27.2, "titleBaseline": "middle", "titleAlign": "center"}},
       "y": {"field": "chi", "type": "quantitative", "scale": {"domain": [0, 1.1], "range": [309.5, 53.3], "nice": false, "zero": false},
             "axis": {"zindex": 1, "orient": "left", "offset": -97.5, "values": [0,0.1,0.2,0.3,0.4,0.5,0.6,0.7,0.8,0.9,1.0,1.1], "tickSize": -3.5, "labelExpr": "round(datum.value*10) % 2 === 0 ? format(datum.value, '.1f') : ''", "labelFontSize": 11, "labelPadding": 8, "title": "χ (emu.mol⁻¹.Oe⁻¹)", "titleFontSize": 18, "titleX": -43.5, "titleY": 174, "titleAngle": -90, "titleBaseline": "middle", "titleAlign": "center"}},
       "color": {"field": "mode", "type": "nominal", "scale": {"domain": ["ZFC", "FC"], "range": ["#127d78", "#ff7b1a"]},
                 "legend": {"orient": "none", "legendX": 132.3, "legendY": 69, "title": null, "fillColor": "white", "strokeColor": "#8a8a8a", "padding": 4, "labelFontSize": 12.5, "labelColor": "#111", "symbolType": "circle", "symbolSize": 40, "symbolOffset": 14, "labelOffset": 14, "rowPadding": 3, "symbolStrokeWidth": 0, "symbolOpacity": 1}}}},
    {"data": {"name": "right_note_main"},
     "mark": {"type": "text", "font": "Liberation Sans", "fontWeight": "bold", "fontSize": 12.5, "align": "left", "baseline": "alphabetic", "color": "#111"},
     "encoding": {
       "x": {"field": "T", "type": "quantitative", "scale": {"domain": [0, 205], "range": [97.5, 447], "nice": false, "zero": false}, "axis": null},
       "y": {"field": "chi", "type": "quantitative", "scale": {"domain": [0, 1.1], "range": [309.5, 53.3], "nice": false, "zero": false}, "axis": null},
       "text": {"field": "label"}}},
    {"data": {"values": [{"frame": "inset"}]},
     "mark": {"type": "rect", "fill": "white"},
     "encoding": {
       "x": {"datum": -2, "type": "quantitative", "scale": {"domain": [-2, 207], "range": [235.1, 431.9], "nice": false, "zero": false},
             "axis": {"zindex": 1, "orient": "top", "offset": -64, "values": [0,25,50,75,100,125,150,175,200], "tickSize": -2.5, "labels": false, "title": null}},
       "x2": {"datum": 207},
       "y": {"datum": 30.3, "type": "quantitative", "scale": {"domain": [0, 30.3], "range": [234, 64], "nice": false, "zero": false},
             "axis": {"zindex": 1, "orient": "right", "offset": -50.1, "values": [0,2.5,5,7.5,10,12.5,15,17.5,20,22.5,25,27.5,30], "tickSize": -2.5, "labels": false, "title": null}},
       "y2": {"datum": 0}}},
    {"data": {"name": "right_fit"},
     "mark": {"type": "line", "strokeWidth": 1},
     "encoding": {
       "x": {"field": "T", "type": "quantitative", "scale": {"domain": [-2, 207], "range": [235.1, 431.9], "nice": false, "zero": false}, "axis": null},
       "y": {"field": "inv", "type": "quantitative", "scale": {"domain": [0, 30.3], "range": [234, 64], "nice": false, "zero": false}, "axis": null},
       "color": {"field": "series", "type": "nominal", "scale": {"domain": ["ZFC", "fit linéaire"], "range": ["#127d78", "#ee4444"]}, "legend": null}}},
    {"data": {"name": "right_inset"},
     "mark": {"type": "point", "filled": true, "size": 12, "opacity": 1},
     "encoding": {
       "x": {"field": "T", "type": "quantitative", "scale": {"domain": [-2, 207], "range": [235.1, 431.9], "nice": false, "zero": false},
             "axis": {"zindex": 1, "orient": "bottom", "offset": -688, "values": [0,25,50,75,100,125,150,175,200], "tickSize": -2.5, "labelExpr": "format(datum.value, 'd')", "labelFontSize": 6.5, "labelPadding": 5, "title": "Température (K)", "titleFontSize": 11.5, "titleX": 332.8, "titleY": 20, "titleBaseline": "middle", "titleAlign": "center"}},
       "y": {"field": "inv", "type": "quantitative", "scale": {"domain": [0, 30.3], "range": [234, 64], "nice": false, "zero": false},
             "axis": {"zindex": 1, "orient": "left", "offset": -235.1, "values": [0,2.5,5,7.5,10,12.5,15,17.5,20,22.5,25,27.5,30], "tickSize": -2.5, "labelExpr": "datum.value % 5 === 0 ? format(datum.value, 'd') : ''", "labelFontSize": 6.5, "labelPadding": 5, "title": "χ⁻¹ (mol.Oe.emu⁻¹)", "titleFontSize": 10.5, "titleX": -19.4, "titleY": 147.3, "titleAngle": -90, "titleBaseline": "middle", "titleAlign": "center"}},
       "color": {"field": "series", "type": "nominal", "scale": {"domain": ["ZFC", "fit linéaire"], "range": ["#127d78", "#ee4444"]},
                 "legend": {"orient": "none", "legendX": 248.7, "legendY": 79.2, "title": null, "padding": 0, "labelFontSize": 9, "labelColor": "#111", "symbolSize": 12, "symbolOffset": 8.3, "labelOffset": 9.3, "rowPadding": 2, "symbolStrokeWidth": 0, "symbolOpacity": 1}},
       "shape": {"field": "series", "type": "nominal", "scale": {"domain": ["ZFC", "fit linéaire"], "range": ["M-1,-1L1,-1L1,1L-1,1Z", "M-5.8,-0.2L5.8,-0.2L5.8,0.2L-5.8,0.2Z"]},
                 "legend": {"orient": "none", "legendX": 248.7, "legendY": 79.2, "title": null, "padding": 0, "labelFontSize": 9, "labelColor": "#111", "symbolSize": 12, "symbolOffset": 8.3, "labelOffset": 9.3, "rowPadding": 2, "symbolStrokeWidth": 0, "symbolOpacity": 1}}}},
    {"data": {"name": "right_theta"},
     "mark": {"type": "text", "font": "Liberation Sans", "fontWeight": "bold", "fontSize": 13.5, "align": "left", "baseline": "alphabetic", "color": "#16827b"},
     "encoding": {
       "x": {"field": "T", "type": "quantitative", "scale": {"domain": [-2, 207], "range": [235.1, 431.9], "nice": false, "zero": false}, "axis": null},
       "y": {"field": "inv", "type": "quantitative", "scale": {"domain": [0, 30.3], "range": [234, 64], "nice": false, "zero": false}, "axis": null},
       "text": {"field": "th"}}},
    {"data": {"name": "right_theta"},
     "mark": {"type": "text", "font": "Liberation Sans", "fontWeight": "bold", "fontSize": 9, "align": "left", "baseline": "alphabetic", "color": "#16827b", "dx": 8.2, "dy": 3.5},
     "encoding": {
       "x": {"field": "T", "type": "quantitative", "scale": {"domain": [-2, 207], "range": [235.1, 431.9], "nice": false, "zero": false}, "axis": null},
       "y": {"field": "inv", "type": "quantitative", "scale": {"domain": [0, 30.3], "range": [234, 64], "nice": false, "zero": false}, "axis": null},
       "text": {"field": "c"}}},
    {"data": {"name": "right_theta"},
     "mark": {"type": "text", "font": "Liberation Sans", "fontWeight": "bold", "fontSize": 13.5, "align": "left", "baseline": "alphabetic", "color": "#16827b", "dx": 13.2},
     "encoding": {
       "x": {"field": "T", "type": "quantitative", "scale": {"domain": [-2, 207], "range": [235.1, 431.9], "nice": false, "zero": false}, "axis": null},
       "y": {"field": "inv", "type": "quantitative", "scale": {"domain": [0, 30.3], "range": [234, 64], "nice": false, "zero": false}, "axis": null},
       "text": {"field": "rest"}}},
    {"data": {"name": "right_lines"},
     "mark": {"type": "text", "font": "Lato", "fontWeight": "bold", "fontSize": 35, "align": "center", "baseline": "alphabetic", "dx": 2, "color": "#000"},
     "encoding": {"y": {"field": "row", "type": "quantitative", "scale": {"domain": [-3.568, 6.41], "reverse": true, "nice": false, "zero": false}, "axis": null}, "text": {"field": "text"}}},
    {"data": {"name": "right_lines"}, "transform": [{"filter": "datum.row === 3"}],
     "mark": {"type": "text", "text": "━━━━━━━━━━━━━━━━━━━━━━━━━━━━━━━", "font": "DejaVu Sans", "fontSize": 19.8, "align": "center", "baseline": "alphabetic", "dx": 3.5, "dy": -6.7, "color": "#ff0000"},
     "encoding": {"y": {"field": "row", "type": "quantitative", "scale": {"domain": [-3.568, 6.41], "reverse": true, "nice": false, "zero": false}, "axis": null}}},
    {"data": {"name": "right_lines"}, "transform": [{"filter": "datum.row === 4"}],
     "mark": {"type": "text", "text": "━━━━━━━━━━━━━━━━━━━━━━━", "font": "DejaVu Sans", "fontSize": 19.8, "align": "center", "baseline": "alphabetic", "dx": 5.5, "dy": -7, "color": "#ff0000"},
     "encoding": {"y": {"field": "row", "type": "quantitative", "scale": {"domain": [-3.568, 6.41], "reverse": true, "nice": false, "zero": false}, "axis": null}}},
    {"data": {"name": "additions"}, "transform": [{"filter": "datum.part === 'r1'"}], "mark": {"type": "text", "font": "Lato", "fontWeight": "bold", "fontSize": 35, "align": "left", "baseline": "alphabetic", "dx": -62, "dy": 2, "color": "#000"}, "encoding": {"y": {"field": "row", "type": "quantitative", "scale": {"domain": [-3.568, 6.41], "reverse": true, "nice": false, "zero": false}, "axis": null}, "text": {"field": "text"}}},
    {"data": {"name": "additions"}, "transform": [{"filter": "datum.part === 'r2'"}], "mark": {"type": "text", "font": "Lato", "fontWeight": "bold", "fontSize": 23, "align": "left", "baseline": "alphabetic", "dx": 56, "dy": 11, "color": "#000"}, "encoding": {"y": {"field": "row", "type": "quantitative", "scale": {"domain": [-3.568, 6.41], "reverse": true, "nice": false, "zero": false}, "axis": null}, "text": {"field": "text"}}},
    {"data": {"name": "additions"}, "transform": [{"filter": "datum.part === 's1'"}], "mark": {"type": "text", "font": "Lato", "fontWeight": "bold", "fontSize": 35, "align": "left", "baseline": "alphabetic", "dx": -68, "dy": -2, "color": "#000"}, "encoding": {"y": {"field": "row", "type": "quantitative", "scale": {"domain": [-3.568, 6.41], "reverse": true, "nice": false, "zero": false}, "axis": null}, "text": {"field": "text"}}},
    {"data": {"name": "additions"}, "transform": [{"filter": "datum.part === 's2'"}], "mark": {"type": "text", "font": "Lato", "fontWeight": "bold", "fontSize": 23, "align": "left", "baseline": "alphabetic", "dx": 63, "dy": 8, "color": "#000"}, "encoding": {"y": {"field": "row", "type": "quantitative", "scale": {"domain": [-3.568, 6.41], "reverse": true, "nice": false, "zero": false}, "axis": null}, "text": {"field": "text"}}},
    {"data": {"name": "formula"}, "transform": [{"filter": "datum.part === 'p1'"}], "mark": {"type": "text", "font": "Lato", "fontWeight": "bold", "fontSize": 35, "align": "left", "baseline": "alphabetic", "dx": -86.3, "dy": 19.2, "color": "#000"}, "encoding": {"y": {"field": "row", "type": "quantitative", "scale": {"domain": [-3.568, 6.41], "reverse": true, "nice": false, "zero": false}, "axis": null}, "text": {"field": "text"}}},
    {"data": {"name": "formula"}, "transform": [{"filter": "datum.part === 'p2'"}], "mark": {"type": "text", "font": "Lato", "fontWeight": "bold", "fontSize": 23, "align": "left", "baseline": "alphabetic", "dx": -46.8, "dy": 28.2, "color": "#000"}, "encoding": {"y": {"field": "row", "type": "quantitative", "scale": {"domain": [-3.568, 6.41], "reverse": true, "nice": false, "zero": false}, "axis": null}, "text": {"field": "text"}}},
    {"data": {"name": "formula"}, "transform": [{"filter": "datum.part === 'p3'"}], "mark": {"type": "text", "font": "Lato", "fontWeight": "bold", "fontSize": 35, "align": "left", "baseline": "alphabetic", "dx": -21.3, "dy": 19.2, "color": "#000"}, "encoding": {"y": {"field": "row", "type": "quantitative", "scale": {"domain": [-3.568, 6.41], "reverse": true, "nice": false, "zero": false}, "axis": null}, "text": {"field": "text"}}},
    {"data": {"name": "formula"}, "transform": [{"filter": "datum.part === 'p4'"}], "mark": {"type": "text", "font": "Lato", "fontWeight": "bold", "fontSize": 23, "align": "left", "baseline": "alphabetic", "dx": 15.8, "dy": 28.2, "color": "#000"}, "encoding": {"y": {"field": "row", "type": "quantitative", "scale": {"domain": [-3.568, 6.41], "reverse": true, "nice": false, "zero": false}, "axis": null}, "text": {"field": "text"}}},
    {"data": {"name": "formula"}, "transform": [{"filter": "datum.part === 'p5'"}], "mark": {"type": "text", "font": "Lato", "fontWeight": "bold", "fontSize": 35, "align": "left", "baseline": "alphabetic", "dx": 42, "dy": 19.2, "color": "#000"}, "encoding": {"y": {"field": "row", "type": "quantitative", "scale": {"domain": [-3.568, 6.41], "reverse": true, "nice": false, "zero": false}, "axis": null}, "text": {"field": "text"}}},
    {"data": {"name": "formula"}, "transform": [{"filter": "datum.part === 'p6'"}], "mark": {"type": "text", "font": "Lato", "fontWeight": "bold", "fontSize": 23, "align": "left", "baseline": "alphabetic", "dx": 67.5, "dy": 28.2, "color": "#000"}, "encoding": {"y": {"field": "row", "type": "quantitative", "scale": {"domain": [-3.568, 6.41], "reverse": true, "nice": false, "zero": false}, "axis": null}, "text": {"field": "text"}}},
    {"data": {"name": "formula"}, "transform": [{"filter": "datum.part === 'q1'"}], "mark": {"type": "text", "font": "Lato", "fontWeight": "bold", "fontSize": 35, "align": "left", "baseline": "alphabetic", "dx": -134.7, "dy": -1.2, "color": "#000"}, "encoding": {"y": {"field": "row", "type": "quantitative", "scale": {"domain": [-3.568, 6.41], "reverse": true, "nice": false, "zero": false}, "axis": null}, "text": {"field": "text"}}},
    {"data": {"name": "formula"}, "transform": [{"filter": "datum.part === 'q2'"}], "mark": {"type": "text", "font": "Lato", "fontWeight": "bold", "fontSize": 23, "align": "left", "baseline": "alphabetic", "dx": -93.7, "dy": 7.2, "color": "#000"}, "encoding": {"y": {"field": "row", "type": "quantitative", "scale": {"domain": [-3.568, 6.41], "reverse": true, "nice": false, "zero": false}, "axis": null}, "text": {"field": "text"}}},
    {"data": {"name": "formula"}, "transform": [{"filter": "datum.part === 'q3'"}], "mark": {"type": "text", "font": "Lato", "fontWeight": "bold", "fontSize": 35, "align": "left", "baseline": "alphabetic", "dx": -81.3, "dy": -1.2, "color": "#000"}, "encoding": {"y": {"field": "row", "type": "quantitative", "scale": {"domain": [-3.568, 6.41], "reverse": true, "nice": false, "zero": false}, "axis": null}, "text": {"field": "text"}}},
    {"data": {"name": "formula"}, "transform": [{"filter": "datum.part === 'q4'"}], "mark": {"type": "text", "font": "Lato", "fontWeight": "bold", "fontSize": 23, "align": "left", "baseline": "alphabetic", "dx": -43.7, "dy": 7.2, "color": "#000"}, "encoding": {"y": {"field": "row", "type": "quantitative", "scale": {"domain": [-3.568, 6.41], "reverse": true, "nice": false, "zero": false}, "axis": null}, "text": {"field": "text"}}},
    {"data": {"name": "formula"}, "transform": [{"filter": "datum.part === 'q5'"}], "mark": {"type": "text", "font": "Lato", "fontWeight": "bold", "fontSize": 35, "align": "left", "baseline": "alphabetic", "dx": -31.3, "dy": -1.2, "color": "#000"}, "encoding": {"y": {"field": "row", "type": "quantitative", "scale": {"domain": [-3.568, 6.41], "reverse": true, "nice": false, "zero": false}, "axis": null}, "text": {"field": "text"}}},
    {"data": {"name": "formula"}, "transform": [{"filter": "datum.part === 'q6'"}], "mark": {"type": "text", "font": "Lato", "fontWeight": "bold", "fontSize": 23, "align": "left", "baseline": "alphabetic", "dx": -4.3, "dy": 7.2, "color": "#000"}, "encoding": {"y": {"field": "row", "type": "quantitative", "scale": {"domain": [-3.568, 6.41], "reverse": true, "nice": false, "zero": false}, "axis": null}, "text": {"field": "text"}}},
    {"data": {"name": "formula"}, "transform": [{"filter": "datum.part === 'q7'"}], "mark": {"type": "text", "font": "Lato", "fontWeight": "normal", "fontSize": 26, "align": "left", "baseline": "alphabetic", "dx": 14.8, "dy": 4.2, "color": "#000"}, "encoding": {"y": {"field": "row", "type": "quantitative", "scale": {"domain": [-3.568, 6.41], "reverse": true, "nice": false, "zero": false}, "axis": null}, "text": {"field": "text"}}},
    {"data": {"name": "formula"}, "transform": [{"filter": "datum.part === 'q8'"}], "mark": {"type": "text", "font": "Lato", "fontWeight": "normal", "fontSize": 15, "align": "left", "baseline": "alphabetic", "dx": 35, "dy": 10.5, "color": "#000"}, "encoding": {"y": {"field": "row", "type": "quantitative", "scale": {"domain": [-3.568, 6.41], "reverse": true, "nice": false, "zero": false}, "axis": null}, "text": {"field": "text"}}},
    {"data": {"name": "formula"}, "transform": [{"filter": "datum.part === 'q9'"}], "mark": {"type": "text", "font": "Lato", "fontWeight": "normal", "fontSize": 26, "align": "left", "baseline": "alphabetic", "dx": 67, "dy": 4.2, "color": "#000"}, "encoding": {"y": {"field": "row", "type": "quantitative", "scale": {"domain": [-3.568, 6.41], "reverse": true, "nice": false, "zero": false}, "axis": null}, "text": {"field": "text"}}}
  ]
}
]
}
